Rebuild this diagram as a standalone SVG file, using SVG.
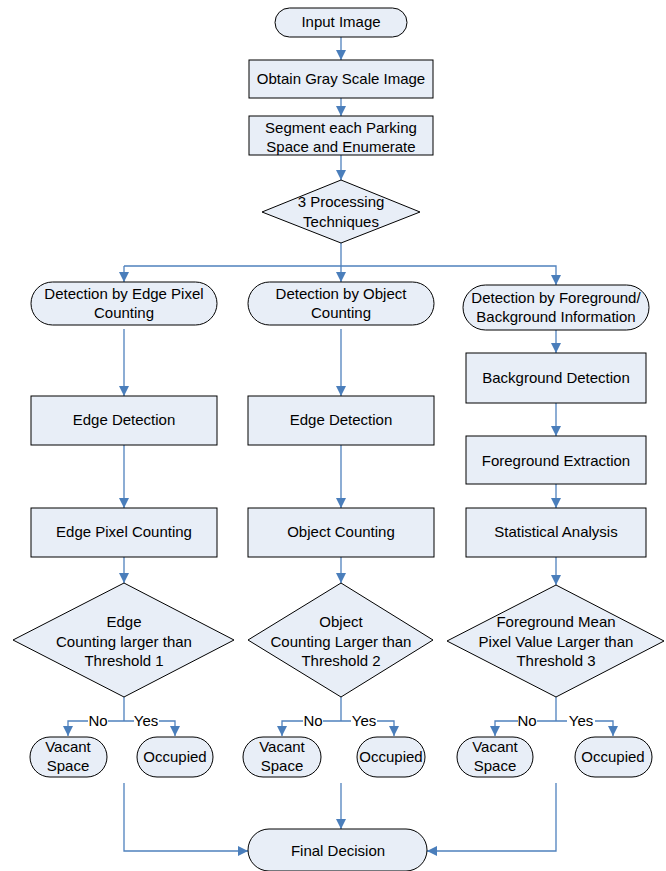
<svg xmlns="http://www.w3.org/2000/svg" width="666" height="871" viewBox="0 0 666 871">
<style>
.n{fill:#E8EEF7;stroke:#000;stroke-width:1}
.t{font-family:"Liberation Sans",Arial,sans-serif;font-size:15px;fill:#000;text-anchor:middle}
.c{fill:none;stroke:#4F81BD;stroke-width:1.3}
</style>
<defs>
<marker id="a" markerUnits="userSpaceOnUse" markerWidth="10" markerHeight="10" refX="10" refY="5" orient="auto">
<path d="M0,0 L10,5 L0,10 z" fill="#4A7EBB"/>
</marker>
</defs>
<rect width="666" height="871" fill="#fff"/>
<g id="connectors">
<path class="c" d="M341,37 V60" marker-end="url(#a)"/>
<path class="c" d="M341,98 V116" marker-end="url(#a)"/>
<path class="c" d="M341,155 V180" marker-end="url(#a)"/>
<path class="c" d="M341,243 V282" marker-end="url(#a)"/>
<path class="c" d="M124,266 H556 V285" marker-end="url(#a)"/>
<path class="c" d="M124,266 V282" marker-end="url(#a)"/>
<path class="c" d="M124,329 V396" marker-end="url(#a)"/>
<path class="c" d="M124,445 V508" marker-end="url(#a)"/>
<path class="c" d="M124,557 V583" marker-end="url(#a)"/>
<path class="c" d="M341,329 V396" marker-end="url(#a)"/>
<path class="c" d="M341,445 V508" marker-end="url(#a)"/>
<path class="c" d="M341,557 V583" marker-end="url(#a)"/>
<path class="c" d="M556,330 V353" marker-end="url(#a)"/>
<path class="c" d="M556,403 V436" marker-end="url(#a)"/>
<path class="c" d="M556,484 V508" marker-end="url(#a)"/>
<path class="c" d="M556,557 V585" marker-end="url(#a)"/>
<path class="c" d="M124,697 V721 H108 M124,721 H134"/>
<path class="c" d="M88,721 H68 V736" marker-end="url(#a)"/>
<path class="c" d="M159,721 H175 V736" marker-end="url(#a)"/>
<path class="c" d="M341,697 V721 H323 M341,721 H351"/>
<path class="c" d="M303,721 H282 V736" marker-end="url(#a)"/>
<path class="c" d="M377,721 H394 V736" marker-end="url(#a)"/>
<path class="c" d="M556,697 V721 H537 M556,721 H567"/>
<path class="c" d="M518,721 H495 V736" marker-end="url(#a)"/>
<path class="c" d="M595,721 H613 V736" marker-end="url(#a)"/>
<path class="c" d="M124,783 V851 H248" marker-end="url(#a)"/>
<path class="c" d="M341,783 V829" marker-end="url(#a)"/>
<path class="c" d="M556,783 V851 H427" marker-end="url(#a)"/>
<text class="t" x="98" y="726">No</text>
<text class="t" x="146" y="726">Yes</text>
<text class="t" x="313" y="726">No</text>
<text class="t" x="364" y="726">Yes</text>
<text class="t" x="527" y="726">No</text>
<text class="t" x="581" y="726">Yes</text>
</g>
<g id="input"><rect class="n" x="275" y="8" width="132" height="29" rx="14.5"/><text class="t" x="341" y="27">Input Image</text></g>
<g id="gray"><rect class="n" x="249" y="60" width="184" height="38"/><text class="t" x="341" y="84">Obtain Gray Scale Image</text></g>
<g id="segment"><rect class="n" x="249" y="116" width="184" height="39"/><text class="t" x="341" y="133">Segment each Parking</text><text class="t" x="341" y="152">Space and Enumerate</text></g>
<g id="proc"><polygon class="n" points="341,180 420,212 341,243 262,212"/><text class="t" x="341" y="207">3 Processing</text><text class="t" x="341" y="227">Techniques</text></g>
<g id="det1"><rect class="n" x="31" y="282" width="186" height="43" rx="21.5"/><text class="t" x="124" y="299">Detection by Edge Pixel</text><text class="t" x="124" y="318">Counting</text></g>
<g id="det2"><rect class="n" x="248" y="282" width="186" height="43" rx="21.5"/><text class="t" x="341" y="299">Detection by Object</text><text class="t" x="341" y="318">Counting</text></g>
<g id="det3"><rect class="n" x="463" y="285" width="186" height="45" rx="22.5"/><text class="t" x="556" y="303">Detection by Foreground/</text><text class="t" x="556" y="322">Background Information</text></g>
<g id="edge1"><rect class="n" x="31" y="396" width="186" height="49"/><text class="t" x="124" y="425">Edge Detection</text></g>
<g id="edge2"><rect class="n" x="248" y="396" width="186" height="49"/><text class="t" x="341" y="425">Edge Detection</text></g>
<g id="bg"><rect class="n" x="466" y="353" width="180" height="50"/><text class="t" x="556" y="383">Background Detection</text></g>
<g id="fg"><rect class="n" x="466" y="436" width="180" height="48"/><text class="t" x="556" y="466">Foreground Extraction</text></g>
<g id="epc"><rect class="n" x="31" y="508" width="186" height="49"/><text class="t" x="124" y="537">Edge Pixel Counting</text></g>
<g id="oc"><rect class="n" x="248" y="508" width="186" height="49"/><text class="t" x="341" y="537">Object Counting</text></g>
<g id="sa"><rect class="n" x="466" y="508" width="180" height="49"/><text class="t" x="556" y="537">Statistical Analysis</text></g>
<g id="d1"><polygon class="n" points="124,583 234,640 124,697 13,640"/><text class="t" x="124" y="627">Edge</text><text class="t" x="124" y="647">Counting larger than</text><text class="t" x="124" y="666">Threshold 1</text></g>
<g id="d2"><polygon class="n" points="341,583 433,640 341,697 248,640"/><text class="t" x="341" y="627">Object</text><text class="t" x="341" y="647">Counting Larger than</text><text class="t" x="341" y="666">Threshold 2</text></g>
<g id="d3"><polygon class="n" points="556,585 664,641 556,697 447,641"/><text class="t" x="556" y="627">Foreground Mean</text><text class="t" x="556" y="647">Pixel Value Larger than</text><text class="t" x="556" y="666">Threshold 3</text></g>
<g id="v1"><rect class="n" x="30" y="737" width="77" height="40" rx="20"/><text class="t" x="68" y="752">Vacant</text><text class="t" x="68" y="771">Space</text></g>
<g id="o1"><rect class="n" x="137" y="737" width="76" height="40" rx="20"/><text class="t" x="175" y="762">Occupied</text></g>
<g id="v2"><rect class="n" x="243" y="737" width="78" height="40" rx="20"/><text class="t" x="282" y="752">Vacant</text><text class="t" x="282" y="771">Space</text></g>
<g id="o2"><rect class="n" x="357" y="737" width="68" height="40" rx="20"/><text class="t" x="391" y="762">Occupied</text></g>
<g id="v3"><rect class="n" x="457" y="737" width="76" height="40" rx="20"/><text class="t" x="495" y="752">Vacant</text><text class="t" x="495" y="771">Space</text></g>
<g id="o3"><rect class="n" x="575" y="737" width="77" height="40" rx="20"/><text class="t" x="613" y="762">Occupied</text></g>
<g id="final"><rect class="n" x="248" y="829" width="179" height="42" rx="21"/><text class="t" x="338" y="856">Final Decision</text></g>
</svg>
